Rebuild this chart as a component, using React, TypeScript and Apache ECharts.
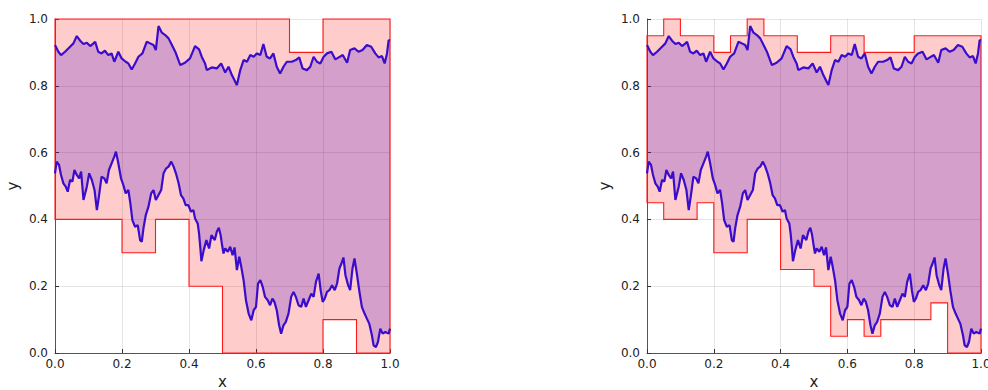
import React, { useEffect, useRef } from "react";
import * as echarts from "echarts";

// Step bounds (panel 1)
const leftUpperEdges = [0, 0.7, 0.8, 1];
const leftUpperLevels = [1, 0.9, 1];
const leftLowerEdges = [0, 0.2, 0.3, 0.4, 0.5, 0.8, 0.9, 1];
const leftLowerLevels = [0.4, 0.3, 0.4, 0.2, 0, 0.1, 0];

// Step bounds (panel 2)
const rightUpperEdges = [0, 0.05, 0.1, 0.2, 0.25, 0.3, 0.35, 0.45, 0.55, 0.65, 0.8, 1];
const rightUpperLevels = [0.95, 1, 0.95, 0.9, 0.95, 1, 0.95, 0.9, 0.95, 0.9, 0.95];
const rightLowerEdges = [0, 0.05, 0.15, 0.2, 0.3, 0.4, 0.5, 0.55, 0.6, 0.65, 0.7, 0.85, 0.9, 1];
const rightLowerLevels = [0.45, 0.4, 0.45, 0.3, 0.4, 0.25, 0.2, 0.05, 0.1, 0.05, 0.1, 0.15, 0];

// Upper path
const upperX = [0, 0.01, 0.018, 0.03, 0.045, 0.055, 0.065, 0.075, 0.085, 0.095, 0.105, 0.115, 0.12, 0.129, 0.139, 0.149, 0.159, 0.169, 0.177, 0.189, 0.199, 0.211, 0.219, 0.229, 0.239, 0.249, 0.261, 0.274, 0.284, 0.294, 0.301, 0.309, 0.319, 0.329, 0.339, 0.349, 0.359, 0.374, 0.388, 0.403, 0.418, 0.43, 0.438, 0.448, 0.453, 0.468, 0.483, 0.496, 0.508, 0.518, 0.528, 0.538, 0.543, 0.553, 0.563, 0.573, 0.583, 0.593, 0.603, 0.613, 0.622, 0.632, 0.642, 0.652, 0.662, 0.672, 0.682, 0.692, 0.707, 0.719, 0.729, 0.739, 0.752, 0.762, 0.772, 0.782, 0.792, 0.802, 0.812, 0.825, 0.837, 0.847, 0.859, 0.872, 0.881, 0.894, 0.906, 0.918, 0.931, 0.944, 0.956, 0.966, 0.976, 0.984, 0.991, 0.996, 1.0];
const upperY = [0.922, 0.902, 0.892, 0.902, 0.917, 0.927, 0.949, 0.935, 0.925, 0.929, 0.919, 0.927, 0.932, 0.902, 0.897, 0.905, 0.892, 0.897, 0.872, 0.902, 0.882, 0.872, 0.867, 0.849, 0.867, 0.887, 0.897, 0.932, 0.927, 0.922, 0.907, 0.979, 0.959, 0.952, 0.942, 0.922, 0.902, 0.862, 0.869, 0.882, 0.919, 0.909, 0.887, 0.867, 0.847, 0.855, 0.852, 0.867, 0.84, 0.857, 0.832, 0.812, 0.802, 0.847, 0.877, 0.872, 0.892, 0.887, 0.897, 0.892, 0.925, 0.887, 0.882, 0.897, 0.857, 0.837, 0.857, 0.872, 0.872, 0.877, 0.885, 0.852, 0.847, 0.857, 0.887, 0.872, 0.867, 0.887, 0.897, 0.902, 0.879, 0.885, 0.892, 0.869, 0.907, 0.912, 0.902, 0.907, 0.922, 0.917, 0.897, 0.885, 0.889, 0.867, 0.897, 0.937, 0.935];

// Lower path
const lowerX = [0, 0.005, 0.012, 0.018, 0.025, 0.032, 0.038, 0.045, 0.052, 0.058, 0.065, 0.072, 0.078, 0.085, 0.095, 0.102, 0.11, 0.118, 0.125, 0.131, 0.139, 0.147, 0.154, 0.161, 0.169, 0.177, 0.182, 0.189, 0.197, 0.204, 0.211, 0.219, 0.225, 0.231, 0.239, 0.247, 0.254, 0.259, 0.264, 0.271, 0.279, 0.287, 0.294, 0.301, 0.309, 0.317, 0.324, 0.332, 0.339, 0.347, 0.354, 0.361, 0.369, 0.376, 0.383, 0.39, 0.398, 0.406, 0.413, 0.418, 0.426, 0.43, 0.434, 0.437, 0.444, 0.452, 0.46, 0.467, 0.477, 0.483, 0.489, 0.494, 0.498, 0.503, 0.508, 0.516, 0.523, 0.53, 0.536, 0.543, 0.55, 0.556, 0.563, 0.57, 0.578, 0.586, 0.593, 0.6, 0.606, 0.613, 0.62, 0.627, 0.635, 0.642, 0.649, 0.655, 0.662, 0.669, 0.675, 0.682, 0.689, 0.697, 0.705, 0.712, 0.719, 0.727, 0.735, 0.742, 0.749, 0.757, 0.765, 0.772, 0.779, 0.787, 0.793, 0.799, 0.805, 0.812, 0.819, 0.827, 0.835, 0.842, 0.849, 0.855, 0.861, 0.867, 0.875, 0.881, 0.888, 0.894, 0.901, 0.908, 0.916, 0.924, 0.931, 0.938, 0.946, 0.951, 0.958, 0.964, 0.971, 0.978, 0.986, 0.996, 1.0];
const lowerY = [0.538, 0.573, 0.563, 0.533, 0.508, 0.498, 0.483, 0.518, 0.513, 0.548, 0.533, 0.523, 0.543, 0.458, 0.498, 0.538, 0.518, 0.488, 0.428, 0.468, 0.528, 0.523, 0.508, 0.548, 0.568, 0.588, 0.603, 0.568, 0.523, 0.503, 0.478, 0.488, 0.448, 0.398, 0.378, 0.383, 0.338, 0.333, 0.373, 0.413, 0.438, 0.478, 0.488, 0.458, 0.473, 0.488, 0.538, 0.553, 0.558, 0.573, 0.558, 0.538, 0.508, 0.473, 0.463, 0.443, 0.443, 0.423, 0.428, 0.403, 0.388, 0.358, 0.313, 0.275, 0.308, 0.338, 0.313, 0.353, 0.338, 0.363, 0.375, 0.355, 0.328, 0.298, 0.313, 0.303, 0.318, 0.293, 0.316, 0.248, 0.288, 0.258, 0.218, 0.158, 0.118, 0.098, 0.128, 0.138, 0.208, 0.218, 0.198, 0.168, 0.158, 0.143, 0.163, 0.153, 0.128, 0.083, 0.058, 0.083, 0.093, 0.118, 0.168, 0.183, 0.168, 0.143, 0.138, 0.163, 0.138, 0.158, 0.178, 0.168, 0.213, 0.238, 0.188, 0.153, 0.163, 0.183, 0.188, 0.203, 0.188, 0.208, 0.253, 0.268, 0.286, 0.233, 0.203, 0.188, 0.253, 0.283, 0.238, 0.188, 0.138, 0.118, 0.103, 0.088, 0.053, 0.023, 0.018, 0.033, 0.073, 0.058, 0.063, 0.058, 0.073];

function stepPoints(edges: number[], levels: number[]): number[][] {
  const pts: number[][] = [];
  for (let i = 0; i < levels.length; i++) {
    pts.push([edges[i], levels[i]]);
    pts.push([edges[i + 1], levels[i]]);
  }
  return pts;
}

function bandPolygon(ue: number[], ul: number[], le: number[], ll: number[]) {
  const up = stepPoints(ue, ul);
  const lo = stepPoints(le, ll).reverse();
  return up.concat(lo);
}

const upperPts = upperX.map((x, i) => [x, upperY[i]]);
const lowerPts = lowerX.map((x, i) => [x, lowerY[i]]);
const fillPoly = upperPts.concat(lowerPts.slice().reverse());

const FONT = "DejaVu Sans";
const LINE = "#3a0dcc";

function axisPair(idx: number) {
  const common = {
    gridIndex: idx,
    type: "value" as const,
    min: 0,
    max: 1,
    interval: 0.2,
    axisLine: { show: true, onZero: false, lineStyle: { color: "#555", width: 1 } },
    axisTick: { show: true, inside: true, length: 4, lineStyle: { color: "#333" } },
    splitLine: { show: true, lineStyle: { color: "rgba(0,0,0,0.1)", width: 1 } },
    axisLabel: {
      color: "#222",
      fontFamily: FONT,
      fontSize: 12,
      formatter: (v: number) => v.toFixed(1),
    },
    nameLocation: "middle" as const,
    nameTextStyle: { fontFamily: FONT, fontSize: 15, color: "#222" },
  };
  const x = { ...common, name: "x", nameGap: 21, axisLabel: { ...common.axisLabel, margin: 5 } };
  const y = { ...common, name: "y", nameGap: 35, axisLabel: { ...common.axisLabel, margin: 7 } };
  return { x, y };
}

function panelSeries(idx: number, band: number[][]) {
  return [
    {
      type: "custom",
      xAxisIndex: idx,
      yAxisIndex: idx,
      data: [[0, 0]],
      silent: true,
      z: 1,
      renderItem: (_p: any, api: any) => ({
        type: "polygon",
        shape: { points: band.map((p) => api.coord(p)) },
        style: { fill: "rgba(255,0,0,0.2)", stroke: "#ff1a1a", lineWidth: 1.1 },
      }),
    },
    {
      type: "custom",
      xAxisIndex: idx,
      yAxisIndex: idx,
      data: [[0, 0]],
      silent: true,
      z: 2,
      renderItem: (_p: any, api: any) => ({
        type: "polygon",
        shape: { points: fillPoly.map((p) => api.coord(p)) },
        style: { fill: "rgba(60,5,200,0.22)", stroke: "none" },
      }),
    },
    {
      type: "line",
      xAxisIndex: idx,
      yAxisIndex: idx,
      data: upperPts,
      showSymbol: false,
      symbol: "none",
      z: 3,
      lineStyle: { color: LINE, width: 2.2 },
    },
    {
      type: "line",
      xAxisIndex: idx,
      yAxisIndex: idx,
      data: lowerPts,
      showSymbol: false,
      symbol: "none",
      z: 3,
      lineStyle: { color: LINE, width: 2.2 },
    },
  ];
}

export default function App() {
  const ref = useRef<HTMLDivElement>(null);
  useEffect(() => {
    if (!ref.current) return;
    const chart = echarts.init(ref.current, undefined, { renderer: "svg" });
    const a0 = axisPair(0);
    const a1 = axisPair(1);
    const leftBand = bandPolygon(leftUpperEdges, leftUpperLevels, leftLowerEdges, leftLowerLevels);
    const rightBand = bandPolygon(rightUpperEdges, rightUpperLevels, rightLowerEdges, rightLowerLevels);
    chart.setOption({
      animation: false,
      backgroundColor: "#ffffff",
      grid: [
        { left: 55, top: 19, width: 335, height: 334, containLabel: false, outerBoundsMode: "none" },
        { left: 647, top: 19, width: 334, height: 334, containLabel: false, outerBoundsMode: "none" },
      ],
      xAxis: [a0.x, a1.x],
      yAxis: [a0.y, a1.y],
      series: [...panelSeries(0, leftBand), ...panelSeries(1, rightBand)],
    });
    return () => chart.dispose();
  }, []);
  return (
    <div
      ref={ref}
      style={{ position: "fixed", left: 0, top: 0, width: 988, height: 390 }}
    />
  );
}
